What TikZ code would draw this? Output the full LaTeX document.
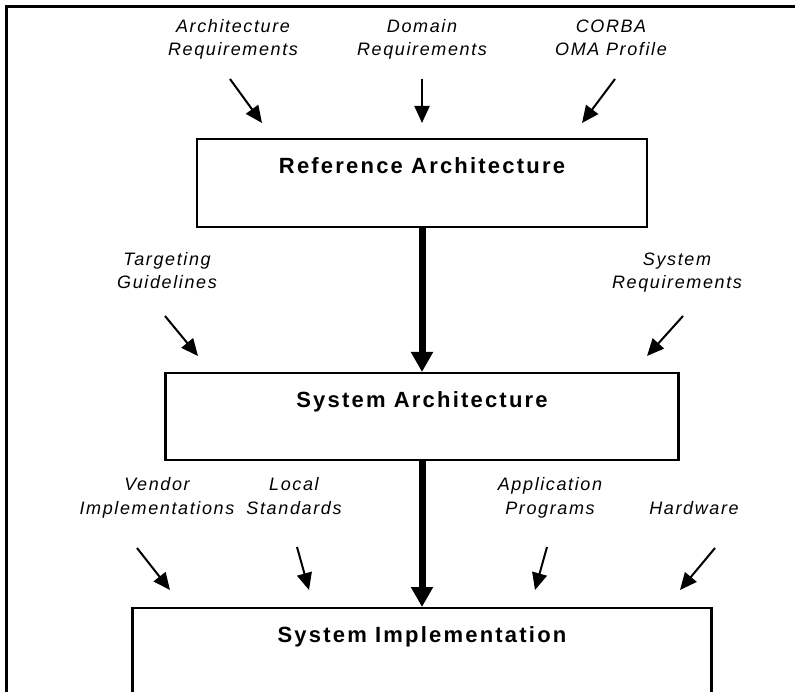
\documentclass[tikz,border=0pt]{standalone}
\usepackage{fontspec}
\setmainfont{Liberation Sans}
\newfontfamily\lblfont[LetterSpace=9]{Liberation Sans}
\newfontfamily\boxfont[LetterSpace=10]{Liberation Sans}
\usetikzlibrary{arrows.meta}
\begin{document}
\begin{tikzpicture}[x=1pt,y=-1pt,
  lbl/.style={font=\lblfont\itshape\fontsize{18}{23.5}\selectfont, align=center, anchor=base, inner sep=0pt},
  stage/.style={draw, line width=2.2pt, anchor=north, inner xsep=0pt, inner ysep=0pt, text height=34pt,
    font=\boxfont\bfseries\fontsize{22}{26}\selectfont},
  feed/.style={line width=2pt, -{Triangle[length=17pt,width=15pt]}},
  flow/.style={line width=7pt, -{Triangle[length=20pt,width=21pt]}}]
\useasboundingbox (0,0) rectangle (795,692);
\clip (0,0) rectangle (795,692);
% frame
\draw[line width=3pt] (6,700) -- (6,7) -- (800,7);
% stages
\node[stage, minimum width=450pt, text depth=54pt] (ref) at (422,138) {Reference Architecture};
\node[stage, minimum width=513pt, text depth=53pt] (sys) at (422,372) {System Architecture};
\node[stage, minimum width=579pt, text depth=60pt] (impl) at (422,607) {System Implementation};
% labels (anchor = baseline of last line)
\node[lbl] (archreq) at (233,56) {Architecture\\Requirements};
\node[lbl] (domreq) at (422,56) {Domain\\Requirements};
\node[lbl] (corba) at (611,56) {CORBA\\OMA Profile};
\node[lbl] (target) at (167,289) {Targeting\\Guidelines};
\node[lbl] (sysreq) at (677,289) {System\\Requirements};
\node[lbl] (vendor) at (157,514) {Vendor\\Implementations};
\node[lbl] (local) at (294,514) {Local\\Standards};
\node[lbl] (apps) at (550,514) {Application\\Programs};
\node[lbl] (hw) at (694,514) {Hardware};
% feed arrow ends
\coordinate (a1s) at (230,79);  \coordinate (a1e) at (262,123);
\coordinate (a2s) at (422,79);  \coordinate (a2e) at (422,123);
\coordinate (a3s) at (615,79);  \coordinate (a3e) at (582,123);
\coordinate (b1s) at (165,316); \coordinate (b1e) at (198,356);
\coordinate (b2s) at (683,316); \coordinate (b2e) at (647,356);
\coordinate (c1s) at (137,548); \coordinate (c1e) at (170,590);
\coordinate (c2s) at (297,547); \coordinate (c2e) at (309,590);
\coordinate (c3s) at (547,547); \coordinate (c3e) at (535,590);
\coordinate (c4s) at (715,548); \coordinate (c4e) at (680,590);
\draw[feed] (a1s) -- (a1e);
\draw[feed] (a2s) -- (a2e);
\draw[feed] (a3s) -- (a3e);
\draw[feed] (b1s) -- (b1e);
\draw[feed] (b2s) -- (b2e);
\draw[feed] (c1s) -- (c1e);
\draw[feed] (c2s) -- (c2e);
\draw[feed] (c3s) -- (c3e);
\draw[feed] (c4s) -- (c4e);
% main flow
\draw[flow] (ref.south) -- (sys.north);
\draw[flow] (sys.south) -- (impl.north);
\end{tikzpicture}
\end{document}
